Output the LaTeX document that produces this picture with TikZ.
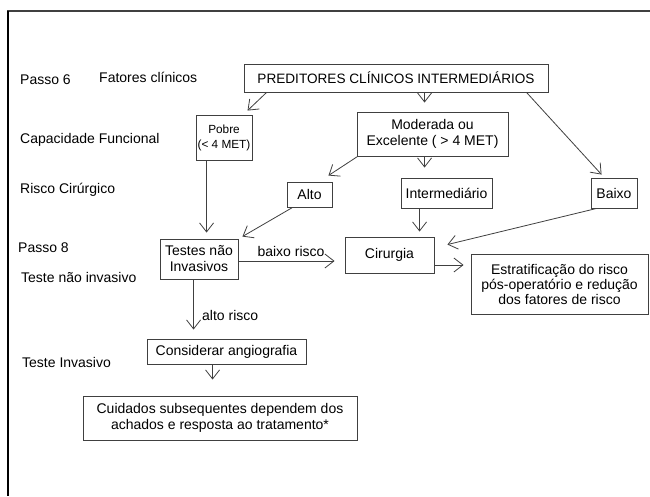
\documentclass[tikz,border=0pt]{standalone}
\usepackage{fontspec}
\setmainfont{Liberation Sans}
\usetikzlibrary{arrows.meta}
\definecolor{linegray}{HTML}{404040}
\begin{document}
\begin{tikzpicture}[x=1pt,y=-1pt,
  box/.style={draw=linegray, line width=0.9pt, inner sep=0pt, align=center, font=\fontsize{14}{16}\selectfont},
  lbl/.style={anchor=west, inner sep=0pt, font=\fontsize{14}{16}\selectfont},
  arr/.style={draw=linegray, line width=0.8pt, -{Straight Barb[length=9pt,width=14pt]}}]
\useasboundingbox (0,0) rectangle (650,496);
\fill[white] (0,0) rectangle (650,496);
% frame
\draw[line width=2pt, color=black!75] (7,11) -- (650,11);
\draw[line width=1.2pt] (8,11) -- (8,496);

% left labels
\node[lbl] (p6) at (20,80) {Passo 6};
\node[lbl] (fc) at (99,77) {Fatores clínicos};
\node[lbl] (cf) at (20,140) {Capacidade Funcional};
\node[lbl] (rc) at (20,190) {Risco Cirúrgico};
\node[lbl] (p8) at (18,248) {Passo 8};
\node[lbl] (tni) at (21,277) {Teste não invasivo};
\node[lbl] (ti) at (22,362) {Teste Invasivo};

% boxes
\node[box, minimum width=304pt, minimum height=28pt, font=\fontsize{13.6}{16}\selectfont] (pred) at (396,78) {PREDITORES CLÍNICOS INTERMEDIÁRIOS};
\node[box, minimum width=56pt, minimum height=45pt, font=\fontsize{11.8}{15}\selectfont] (pobre) at (224,137.5) {Pobre\\(< 4 MET)};
\node[box, minimum width=151pt, minimum height=44pt] (mod) at (432.5,134) {Moderada ou\\Excelente ( > 4 MET)};
\node[box, minimum width=45pt, minimum height=25pt] (alto) at (309.5,194.5) {Alto};
\node[box, minimum width=91pt, minimum height=30pt] (inter) at (446.5,193) {Intermediário};
\node[box, minimum width=46pt, minimum height=30pt] (baixo) at (614,193) {Baixo};
\node[box, minimum width=78pt, minimum height=40pt] (testes) at (199,259) {Testes não\\Invasivos};
\node[box, minimum width=89pt, minimum height=36pt] (cir) at (389.5,255) {Cirurgia};
\node[box, minimum width=177pt, minimum height=60pt, font=\fontsize{14}{15}\selectfont] (estr) at (559.5,284) {Estratificação do risco\\pós-operatório e redução\\dos fatores de risco};
\node[box, minimum width=159pt, minimum height=25pt] (cons) at (226.5,351.5) {Considerar angiografia};
\node[box, minimum width=274pt, minimum height=44pt] (cuid) at (220,418) {Cuidados subsequentes dependem dos\\achados e resposta ao tratamento*};

% arrow labels
\node[lbl, anchor=center] (br) at (291,251) {baixo risco};
\node[lbl] (ar) at (202,315) {alto risco};

% connectors
\draw[arr] ([xshift=23pt]pred.south west) -- ([xshift=52pt,yshift=4pt]pobre.north west);
\draw[arr] ([xshift=181pt]pred.south west) -- ([xshift=68pt,yshift=9pt]mod.north west);
\draw[arr] ([xshift=283pt]pred.south west) -- ([xshift=11pt,yshift=3pt]baixo.north west);
\draw[arr] ([xshift=1pt]mod.south west) -- ([xshift=-4pt,yshift=6pt]alto.north east);
\draw[arr] ([xshift=68pt]mod.south west) -- ([xshift=24pt,yshift=10pt]inter.north west);
\draw[arr] ([xshift=11pt]pobre.south west) -- ([xshift=47pt,yshift=6pt]testes.north west);
\draw[arr] ([xshift=6pt]alto.south west) -- ([xshift=4pt,yshift=2pt]testes.north east);
\draw[arr] ([yshift=-2pt]testes.east) -- ([xshift=-10pt,yshift=-6pt]cir.west);
\draw[arr] ([xshift=19pt]inter.south west) -- ([xshift=75pt,yshift=5pt]cir.north west);
\draw[arr] ([xshift=6pt]baixo.south west) -- ([xshift=13pt,yshift=-8pt]cir.north east);
\draw[arr] ([yshift=-10pt]cir.east) -- ([xshift=-7pt,yshift=19pt]estr.west);
\draw[arr] ([xshift=34pt]testes.south west) -- ([xshift=47pt,yshift=9pt]cons.north west);
\draw[arr] ([xshift=66pt]cons.south west) -- ([xshift=130pt,yshift=16pt]cuid.north west);
\end{tikzpicture}
\end{document}
